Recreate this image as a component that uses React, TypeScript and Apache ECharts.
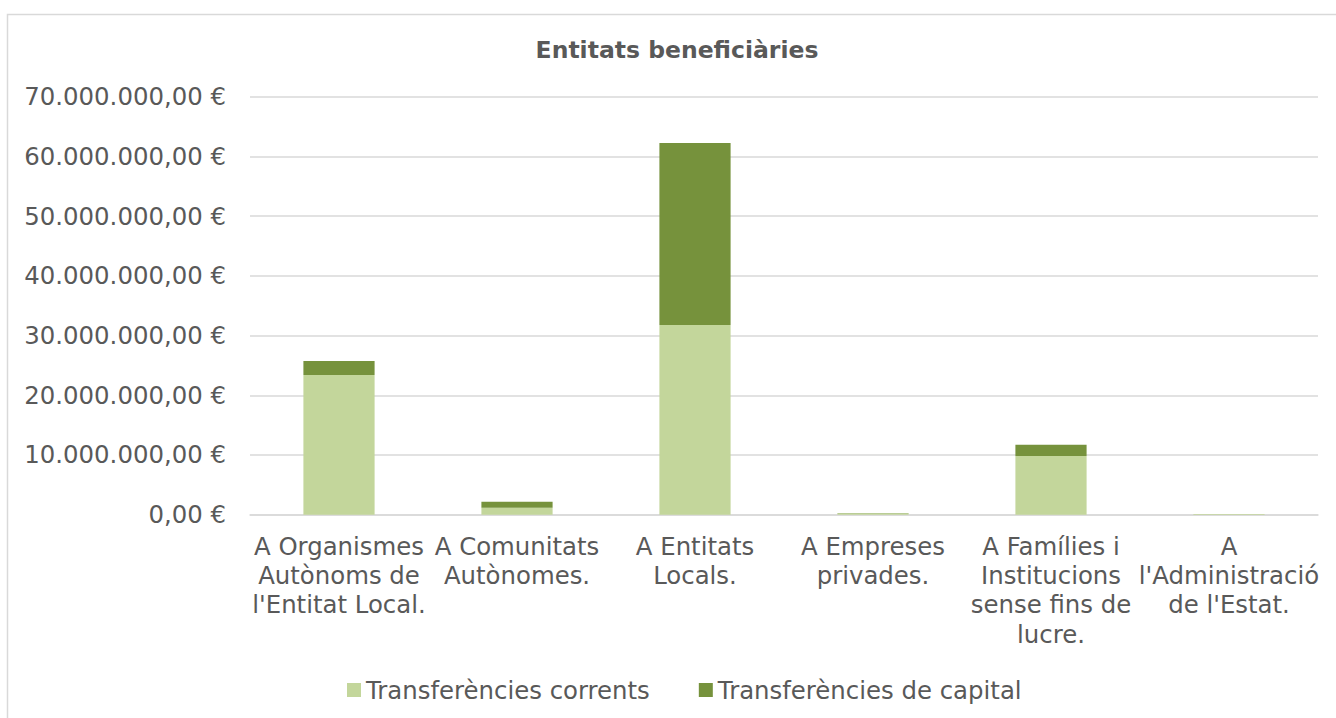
import React, { useEffect, useRef } from "react";
import * as echarts from "echarts";

const categories = [
  "A Organismes\nAutònoms de\nl'Entitat Local.",
  "A Comunitats\nAutònomes.",
  "A Entitats\nLocals.",
  "A Empreses\nprivades.",
  "A Famílies i\nInstitucions\nsense fins de\nlucre.",
  "A\nl'Administració\nde l'Estat.",
];
const seriesNames = ["Transferències corrents", "Transferències de capital"];
const corrents = [23400000, 1170000, 31770000, 250000, 9830000, 100000];
const capital = [2340000, 1000000, 30480000, 30000, 1890000, 20000];
const titleText = "Entitats beneficiàries";

const FONT = "DejaVu Sans, Verdana, sans-serif";
const TXT = "#595959";
const FS = 24.4;

function fmtEuro(v: number): string {
  const neg = v < 0;
  const abs = Math.abs(v);
  const intPart = Math.floor(abs).toString().replace(/\B(?=(\d{3})+(?!\d))/g, ".");
  const dec = Math.round((abs - Math.floor(abs)) * 100).toString().padStart(2, "0");
  return (neg ? "-" : "") + intPart + "," + dec + " €";
}

export default function App() {
  const ref = useRef<HTMLDivElement>(null);
  useEffect(() => {
    if (!ref.current) return;
    const chart = echarts.init(ref.current, undefined, { renderer: "svg" });
    chart.setOption({
      animation: false,
      backgroundColor: "#ffffff",
      textStyle: { fontFamily: FONT },
      graphic: [
        {
          type: "rect",
          shape: { x: 7.5, y: 14.5, width: 1340, height: 720 },
          style: { fill: "none", stroke: "#d9d9d9", lineWidth: 1.5 },
          silent: true,
        },
        {
          type: "text",
          x: 677,
          y: 50,
          style: {
            text: titleText,
            textAlign: "center",
            textVerticalAlign: "middle",
            font: `bold 23.5px ${FONT}`,
            fill: TXT,
          },
        },
      ],
      legend: {
        data: seriesNames,
        left: 342,
        top: 673,
        itemWidth: 14,
        itemHeight: 14,
        itemGap: 49,
        icon: "rect",
        textStyle: { fontSize: FS, color: TXT, fontFamily: FONT },
      },
      grid: { left: 250, right: 18, top: 96.7, bottom: 203.3, containLabel: false },
      xAxis: {
        type: "category",
        data: categories,
        axisLine: { lineStyle: { color: "#d9d9d9", width: 1.5 } },
        axisTick: { show: false },
        axisLabel: {
          interval: 0,
          fontSize: FS,
          lineHeight: 29.3,
          color: TXT,
          fontFamily: FONT,
          margin: 17,
        },
      },
      yAxis: {
        type: "value",
        min: 0,
        max: 70000000,
        interval: 10000000,
        axisLine: { show: false },
        axisTick: { show: false },
        splitLine: { lineStyle: { color: "#d9d9d9", width: 1.5 } },
        axisLabel: {
          formatter: (v: number) => fmtEuro(v),
          fontSize: FS,
          color: TXT,
          fontFamily: FONT,
          margin: 24,
        },
      },
      series: [
        {
          name: seriesNames[0],
          type: "bar",
          stack: "total",
          data: corrents,
          barWidth: "40%",
          itemStyle: { color: "#C3D69B" },
        },
        {
          name: seriesNames[1],
          type: "bar",
          stack: "total",
          data: capital,
          barWidth: "40%",
          itemStyle: { color: "#76923C" },
        },
      ],
    });
    return () => chart.dispose();
  }, []);
  return (
    <div
      ref={ref}
      style={{ position: "fixed", left: 0, top: 0, width: 1336, height: 718 }}
    />
  );
}
